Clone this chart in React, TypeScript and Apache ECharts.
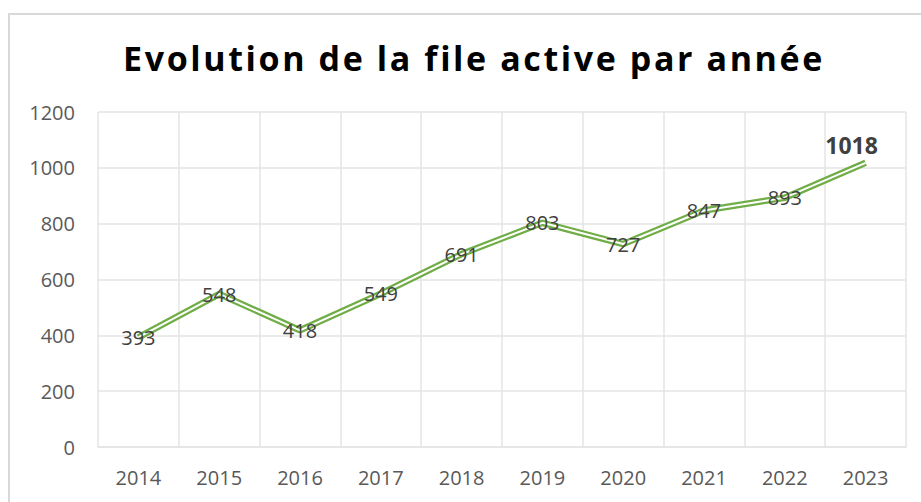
import React, { useEffect, useRef } from "react";
import * as echarts from "echarts";

const titleText = "Evolution de la file active par année";
const years = ["2014", "2015", "2016", "2017", "2018", "2019", "2020", "2021", "2022", "2023"];
const fileActive = [393, 548, 418, 549, 691, 803, 727, 847, 893, 1018];
const yTicks = { min: 0, max: 1200, interval: 200 };

const GREEN = "#70ad47";
const GRID = "#e4e4e4";
const FONT = "Open Sans";

export default function App() {
  const ref = useRef<HTMLDivElement>(null);
  useEffect(() => {
    document.body.style.margin = "0";
    const chart = echarts.init(ref.current!, null, { renderer: "svg" });
    const lastIdx = fileActive.length - 1;
    const labelled = fileActive.map((v, i) =>
      i === lastIdx
        ? {
            value: v,
            label: {
              position: "top",
              distance: 5,
              offset: [-14, 0],
              fontWeight: "bold",
              fontSize: 23,
              color: "#404040",
            },
          }
        : v
    );
    chart.setOption({
      animation: false,
      backgroundColor: "#ffffff",
      title: {
        text: titleText,
        left: 469,
        textAlign: "center",
        top: 36,
        textStyle: {
          fontFamily: FONT,
          fontWeight: "bold",
          fontSize: 34,
          color: "#000000",
        },
      },
      graphic: [
        {
          type: "rect",
          shape: { x: 9, y: 14, width: 940, height: 520 },
          style: { fill: "none", stroke: "#d9d9d9", lineWidth: 2 },
          silent: true,
          z: -1,
        },
      ],
      grid: { left: 98, right: 15, top: 112, bottom: 55, containLabel: false },
      xAxis: {
        type: "category",
        data: years,
        boundaryGap: true,
        axisLine: { show: true, lineStyle: { color: GRID, width: 1.5 } },
        axisTick: { show: false },
        splitLine: { show: true, interval: 0, lineStyle: { color: GRID, width: 1.5 } },
        axisLabel: {
          fontFamily: FONT,
          fontSize: 20,
          color: "#595959",
          margin: 20,
        },
      },
      yAxis: {
        type: "value",
        min: yTicks.min,
        max: yTicks.max,
        interval: yTicks.interval,
        axisLine: { show: false },
        axisTick: { show: false },
        splitLine: { show: true, lineStyle: { color: GRID, width: 1.5 } },
        axisLabel: {
          fontFamily: FONT,
          fontSize: 20,
          color: "#595959",
          margin: 23,
          formatter: (v: number) => String(v),
        },
      },
      series: [
        {
          type: "line",
          data: fileActive,
          symbol: "none",
          silent: true,
          lineStyle: { color: GREEN, width: 6.5 },
          z: 2,
          label: { show: false },
        },
        {
          type: "line",
          data: labelled,
          symbol: "circle",
          symbolSize: 2,
          showSymbol: true,
          itemStyle: { color: "rgba(255,255,255,0)", borderWidth: 0 },
          lineStyle: { color: "#ffffff", width: 2 },
          z: 3,
          label: {
            show: true,
            position: "inside",
            fontFamily: FONT,
            fontSize: 20,
            color: "#404040",
          },
        },
      ],
    });
    const texts = ref.current!.querySelectorAll("text");
    texts.forEach((t) => {
      if (t.textContent === titleText) {
        (t as SVGTextElement).style.letterSpacing = "2.6px";
      }
    });
    return () => chart.dispose();
  }, []);
  return <div ref={ref} style={{ width: 921, height: 502 }} />;
}
